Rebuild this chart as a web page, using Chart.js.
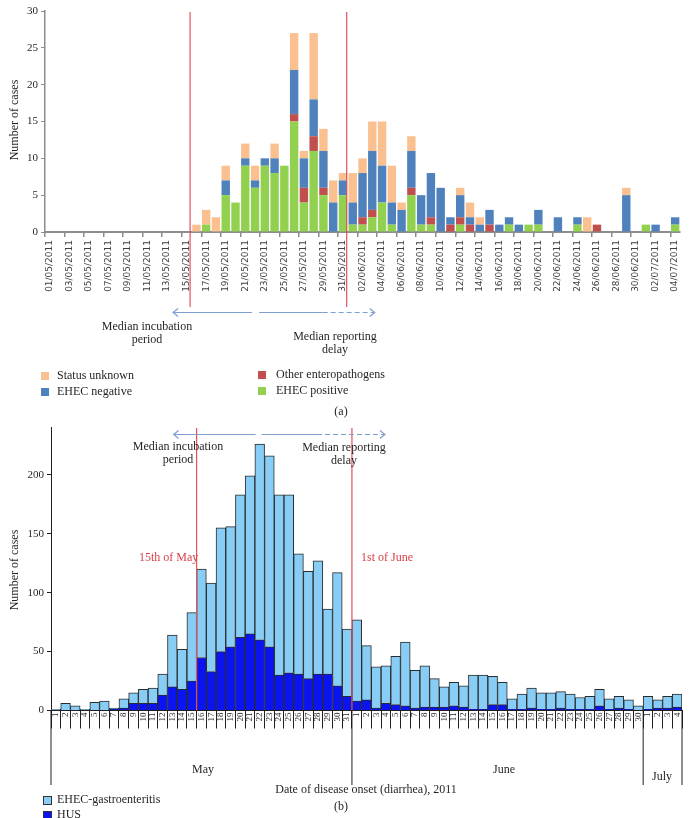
<!DOCTYPE html>
<html>
<head>
<meta charset="utf-8">
<script src="https://cdn.jsdelivr.net/npm/chart.js@4.4.1/dist/chart.umd.min.js"></script>
<style>
body { margin: 0; background: #fff; width: 689px; height: 818px; position: relative; overflow: hidden;
       font-family: "Liberation Serif", "DejaVu Serif", serif; color: #231f20; }
canvas { position: absolute; left: 0; }
.t  { position: absolute; font-size: 12px; line-height: 13px; white-space: nowrap; }
.c  { transform: translateX(-50%); text-align: center; }
.sw { position: absolute; width: 8px; height: 8px; }
.red { color: #d8424a; }
.yl { position: absolute; font-size: 12px; white-space: nowrap; transform: translate(-50%,-50%) rotate(-90deg); }
</style>
</head>
<body>
<canvas id="topChart" width="689" height="330" style="top:0"></canvas>
<canvas id="botChart" width="689" height="400" style="top:418px"></canvas>

<!-- top chart annotations -->
<div class="yl" style="left:14px;top:120px">Number of cases</div>
<div class="t c" style="left:147px;top:320px">Median incubation<br>period</div>
<div class="t c" style="left:335px;top:330px">Median reporting<br>delay</div>
<div class="sw" style="left:41px;top:372px;background:#fac090"></div>
<div class="t" style="left:57px;top:369px">Status unknown</div>
<div class="sw" style="left:41px;top:388px;background:#4f81bd"></div>
<div class="t" style="left:57px;top:385px">EHEC negative</div>
<div class="sw" style="left:258px;top:371px;background:#c0504d"></div>
<div class="t" style="left:276px;top:368px">Other enteropathogens</div>
<div class="sw" style="left:258px;top:387px;background:#92d050"></div>
<div class="t" style="left:276px;top:384px">EHEC positive</div>
<div class="t c" style="left:341px;top:405px">(a)</div>

<!-- bottom chart annotations -->
<div class="yl" style="left:14px;top:570px">Number of cases</div>
<div class="t c" style="left:178px;top:440px">Median incubation<br>period</div>
<div class="t c" style="left:344px;top:441px">Median reporting<br>delay</div>
<div class="t red" style="left:139px;top:551px">15th of May</div>
<div class="t red" style="left:361px;top:551px">1st of June</div>
<div class="t c" style="left:203px;top:763px">May</div>
<div class="t c" style="left:504px;top:763px">June</div>
<div class="t c" style="left:662px;top:770px">July</div>
<div class="t c" style="left:366px;top:783px">Date of disease onset (diarrhea), 2011</div>
<div class="sw" style="left:43px;top:796px;width:9px;height:9px;background:#88cdf6;border:1px solid #333;box-sizing:border-box"></div>
<div class="t" style="left:57px;top:793px">EHEC-gastroenteritis</div>
<div class="sw" style="left:43px;top:811px;width:9px;height:9px;background:#0a14f0;border:1px solid #333;box-sizing:border-box"></div>
<div class="t" style="left:57px;top:808px">HUS</div>
<div class="t c" style="left:341px;top:800px">(b)</div>

<script>
// ── DATA: (a) reported cases by day ──────────────────────────────────────────
const dates = [
  '01/05/2011','02/05/2011','03/05/2011','04/05/2011','05/05/2011','06/05/2011','07/05/2011','08/05/2011',
  '09/05/2011','10/05/2011','11/05/2011','12/05/2011','13/05/2011','14/05/2011','15/05/2011','16/05/2011',
  '17/05/2011','18/05/2011','19/05/2011','20/05/2011','21/05/2011','22/05/2011','23/05/2011','24/05/2011',
  '25/05/2011','26/05/2011','27/05/2011','28/05/2011','29/05/2011','30/05/2011','31/05/2011',
  '01/06/2011','02/06/2011','03/06/2011','04/06/2011','05/06/2011','06/06/2011','07/06/2011','08/06/2011',
  '09/06/2011','10/06/2011','11/06/2011','12/06/2011','13/06/2011','14/06/2011','15/06/2011','16/06/2011',
  '17/06/2011','18/06/2011','19/06/2011','20/06/2011','21/06/2011','22/06/2011','23/06/2011','24/06/2011',
  '25/06/2011','26/06/2011','27/06/2011','28/06/2011','29/06/2011','30/06/2011',
  '01/07/2011','02/07/2011','03/07/2011','04/07/2011'
];
//                May (1-31)                                                              June (1-30)                                                        July (1-4)
const ehecPositive  = [0,0,0,0,0,0,0,0,0,0,0,0,0,0,0,0,1,0,5,4,9,6,9,8,9,15,4,11,5,0,5,   1,1,2,4,1,0,5,1,1,0,0,1,0,0,0,0,1,0,1,1,0,0,0,1,0,0,0,0,0,0,   1,0,0,1];
const otherEntero   = [0,0,0,0,0,0,0,0,0,0,0,0,0,0,0,0,0,0,0,0,0,0,0,0,0,1,2,2,1,0,0,     0,1,1,0,0,0,1,0,1,0,1,1,1,0,1,0,0,0,0,0,0,0,0,0,0,1,0,0,0,0,   0,0,0,0];
const ehecNegative  = [0,0,0,0,0,0,0,0,0,0,0,0,0,0,0,0,0,0,2,0,1,1,1,2,0,6,4,5,5,4,2,     3,6,8,5,3,3,5,4,6,6,1,3,1,1,2,1,1,1,0,2,0,2,0,1,0,0,0,0,5,0,   0,1,0,1];
const statusUnknown = [0,0,0,0,0,0,0,0,0,0,0,0,0,0,0,1,2,2,2,0,2,2,0,2,0,5,1,9,3,3,1,     4,2,4,6,5,1,2,0,0,0,0,1,2,1,0,0,0,0,0,0,0,0,0,0,2,0,0,0,1,0,   0,0,0,0];
const yTicksTop = [0, 5, 10, 15, 20, 25, 30];

// ── DATA: (b) date of disease onset ───────────────────────────────────────────
const onsetDays = [
  '1','2','3','4','5','6','7','8','9','10','11','12','13','14','15','16','17','18','19','20',
  '21','22','23','24','25','26','27','28','29','30','31',
  '1','2','3','4','5','6','7','8','9','10','11','12','13','14','15','16','17','18','19','20',
  '21','22','23','24','25','26','27','28','29','30',
  '1','2','3','4'
];
const hus        = [0,0,0,0,0,0,1,2,6,6,6,13,20,18,25,45,33,50,54,62,65,60,54,30,32,31,27,31,31,21,12,
                    8,9,2,6,5,4,2,3,3,3,4,3,1,1,5,5,1,1,2,1,1,2,1,1,1,4,1,2,1,0,
                    1,2,2,3];
const gastro     = [1,6,4,1,7,8,1,8,9,12,13,18,44,34,58,75,75,105,102,121,134,166,162,153,151,102,91,96,55,96,57,
                    69,46,35,32,41,54,32,35,24,17,20,18,29,29,24,19,9,13,17,14,14,14,13,10,11,14,9,10,8,4,
                    11,7,10,11];
const yTicksBot  = [0, 50, 100, 150, 200];
const months     = [{ name: 'May', from: 0, to: 31 }, { name: 'June', from: 31, to: 61 }, { name: 'July', from: 61, to: 65 }];

// ── HELPERS ──────────────────────────────────────────────────────────────────
const AXIS_GREY = '#8c8c8c';
const ARROW_BLUE = '#7f9fcf';

function slotOf(scale) { return scale.getPixelForValue(1) - scale.getPixelForValue(0); }

function arrowRow(ctx, y, x0, gapA, gapB, dashFrom, x1) {
    ctx.save();
    ctx.strokeStyle = ARROW_BLUE;
    ctx.lineWidth = 1.2;
    ctx.beginPath();
    ctx.moveTo(x0, y); ctx.lineTo(gapA, y);
    ctx.moveTo(gapB, y); ctx.lineTo(dashFrom, y);
    ctx.stroke();
    ctx.setLineDash([5, 3]);
    ctx.beginPath(); ctx.moveTo(dashFrom, y); ctx.lineTo(x1, y); ctx.stroke();
    ctx.setLineDash([]);
    ctx.beginPath();
    ctx.moveTo(x0 + 5, y - 4); ctx.lineTo(x0, y); ctx.lineTo(x0 + 5, y + 4);
    ctx.moveTo(x1 - 5, y - 4); ctx.lineTo(x1, y); ctx.lineTo(x1 - 5, y + 4);
    ctx.stroke();
    ctx.restore();
}

function redLine(ctx, x, y0, y1) {
    ctx.save();
    ctx.strokeStyle = '#e0525a';
    ctx.lineWidth = 1.2;
    ctx.beginPath(); ctx.moveTo(x, y0); ctx.lineTo(x, y1); ctx.stroke();
    ctx.restore();
}

// ── CHART (a) ────────────────────────────────────────────────────────────────
const topOverlay = {
    id: 'topOverlay',
    afterDraw(chart) {
        const ctx = chart.ctx, x = chart.scales.x;
        const s = slotOf(x);
        const r1 = x.getPixelForValue(14) + 0.35 * s;   // 15/05
        const r2 = x.getPixelForValue(30) + 0.38 * s;   // 31/05
        redLine(ctx, r1, 12, 307);
        redLine(ctx, r2, 12, 307);
        arrowRow(ctx, 312.5, r1 - 17, r1 + 62, r1 + 69, r2 - 24, r2 + 28);
    }
};

new Chart(document.getElementById('topChart'), {
    type: 'bar',
    data: {
        labels: dates,
        datasets: [
            { label: 'EHEC positive',         data: ehecPositive,  backgroundColor: '#92d050' },
            { label: 'Other enteropathogens', data: otherEntero,   backgroundColor: '#c0504d' },
            { label: 'EHEC negative',         data: ehecNegative,  backgroundColor: '#4f81bd' },
            { label: 'Status unknown',        data: statusUnknown, backgroundColor: '#fac090' }
        ]
    },
    options: {
        responsive: false, animation: false,
        layout: { padding: { top: 11, right: 8, left: 0, bottom: 0 } },
        datasets: { bar: { categoryPercentage: 1, barPercentage: 0.86, borderWidth: 0 } },
        plugins: { legend: { display: false }, tooltip: { enabled: false } },
        scales: {
            x: {
                stacked: true,
                afterFit: s => { s.height = 330 - 232 - 0; },
                border: { color: AXIS_GREY, width: 2 },
                grid: {
                    offset: true, drawOnChartArea: false, tickLength: 5,
                    color: c => (c.index % 2 === 0 ? AXIS_GREY : 'rgba(0,0,0,0)'), lineWidth: 1.5
                },
                ticks: {
                    autoSkip: false, minRotation: 90, maxRotation: 90, padding: 3,
                    color: '#404040', font: { family: 'DejaVu Sans', size: 9 },
                    callback: (v, i) => (i % 2 === 0 ? dates[i] : '')
                }
            },
            y: {
                stacked: true, min: 0, max: 30,
                afterFit: s => { s.width = 45; },
                afterBuildTicks: s => { s.ticks = yTicksTop.map(v => ({ value: v })); },
                border: { color: AXIS_GREY, width: 1.5 },
                grid: { drawOnChartArea: false, tickLength: 4, color: AXIS_GREY },
                ticks: { color: '#231f20', padding: 3, font: { family: 'Liberation Serif', size: 11 } }
            }
        }
    },
    plugins: [topOverlay]
});

// ── CHART (b) ────────────────────────────────────────────────────────────────
const BOT_TOP = 418;
const botOverlay = {
    id: 'botOverlay',
    afterDraw(chart) {
        const ctx = chart.ctx, x = chart.scales.x, area = chart.chartArea;
        const s = slotOf(x);
        const r1 = x.getPixelForValue(15) - s / 2;   // start of 16 May
        const r2 = x.getPixelForValue(31) - s / 2;   // start of 1 June
        redLine(ctx, r1, 428 - BOT_TOP, area.bottom);
        redLine(ctx, r2, 428 - BOT_TOP, area.bottom);
        arrowRow(ctx, 434.5 - BOT_TOP, r1 - 23, r1 + 59, r1 + 65, r2 - 35, r2 + 33);

        // month separators under the day labels
        ctx.save();
        ctx.strokeStyle = '#231f20';
        ctx.lineWidth = 1;
        const yEnd = 785 - BOT_TOP;
        ctx.beginPath();
        months.forEach(m => {
            const xa = x.getPixelForValue(m.from) - s / 2;
            ctx.moveTo(xa, area.bottom); ctx.lineTo(xa, yEnd);
        });
        const xe = x.getPixelForValue(64) + s / 2;
        ctx.moveTo(xe, area.bottom); ctx.lineTo(xe, yEnd);
        ctx.stroke();
        ctx.restore();
    }
};

new Chart(document.getElementById('botChart'), {
    type: 'bar',
    data: {
        labels: onsetDays,
        datasets: [
            { label: 'HUS',                  data: hus,    backgroundColor: '#0a14f0' },
            { label: 'EHEC-gastroenteritis', data: gastro, backgroundColor: '#88cdf6' }
        ]
    },
    options: {
        responsive: false, animation: false,
        layout: { padding: { top: 8, right: 7, left: 0, bottom: 0 } },
        datasets: { bar: { categoryPercentage: 1, barPercentage: 1, borderWidth: 1, borderColor: '#2b2b2b' } },
        plugins: { legend: { display: false }, tooltip: { enabled: false } },
        scales: {
            x: {
                stacked: true,
                afterFit: s => { s.height = 400 - (710.5 - BOT_TOP); },
                border: { color: '#231f20', width: 1 },
                grid: { offset: true, drawOnChartArea: false, tickLength: 18, color: '#231f20', lineWidth: 1 },
                ticks: {
                    autoSkip: false, minRotation: 90, maxRotation: 90, padding: -16,
                    color: '#231f20', font: { family: 'Liberation Serif', size: 9 }
                }
            },
            y: {
                stacked: true, min: 0, max: 240,
                afterFit: s => { s.width = 51; },
                afterBuildTicks: s => { s.ticks = yTicksBot.map(v => ({ value: v })); },
                border: { color: '#231f20', width: 1 },
                grid: { drawOnChartArea: false, tickLength: 4, color: '#231f20' },
                ticks: { color: '#231f20', padding: 3, font: { family: 'Liberation Serif', size: 11 } }
            }
        }
    },
    plugins: [botOverlay]
});
</script>
</body>
</html>
